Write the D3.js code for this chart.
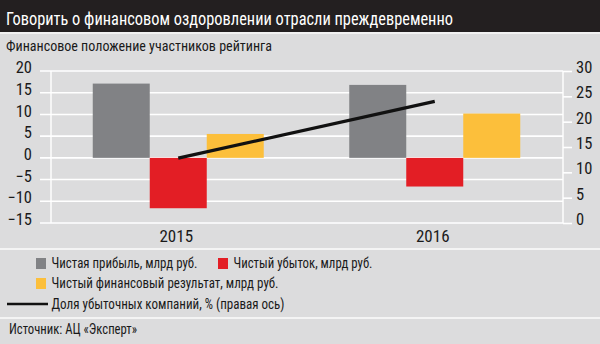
<!DOCTYPE html>
<html><head><meta charset="utf-8">
<script src="https://cdn.jsdelivr.net/npm/d3@7"></script>
<style>
body{margin:0;padding:0;background:#dcdcdd;}
svg text{font-family:"Liberation Sans Narrow","Roboto Condensed","Liberation Sans",sans-serif;}
</style></head>
<body>
<svg id="c" width="600" height="344"></svg>
<script>
const years = ["2015", "2016"];
const seriesNames = ["Чистая прибыль, млрд руб.", "Чистый убыток, млрд руб.", "Чистый финансовый результат, млрд руб."];
const profit = [17.1, 16.8];
const loss = [-11.6, -6.6];
const net = [5.5, 10.2];
const lossShare = [12.8, 24.0];
const lineName = "Доля убыточных компаний, % (правая ось)";
const leftTicks = [-15, -10, -5, 0, 5, 10, 15, 20];
const rightTicks = [0, 5, 10, 15, 20, 25, 30];
const title = "Говорить о финансовом оздоровлении отрасли преждевременно";
const subtitle = "Финансовое положение участников рейтинга";
const source = "Источник: АЦ «Эксперт»";
const colors = ["#818285", "#e31e25", "#fcbf3b"];

const svg = d3.select("#c");
const W = 600, H = 344;
function fit(sel, w) { return sel.attr("textLength", w).attr("lengthAdjust", "spacingAndGlyphs"); }

svg.append("rect").attr("width", W).attr("height", H).attr("fill", "#dcdcdd");
svg.append("rect").attr("width", W).attr("height", 32).attr("fill", "#231f20");
svg.append("rect").attr("y", 32).attr("width", W).attr("height", 2).attr("fill", "#f2f2f2");
fit(svg.append("text").attr("x", 6).attr("y", 25).attr("fill", "#fff").attr("font-size", 19).text(title), 447);
fit(svg.append("text").attr("x", 6).attr("y", 51).attr("fill", "#1a1a1a").attr("font-size", 15.5).text(subtitle), 266);

const yL = d3.scaleLinear().domain([-15, 20]).range([223, 71]);
const yR = d3.scaleLinear().domain([0, 30]).range([223, 71]);
const x0 = d3.scaleBand().domain(years).range([50, 563]);
const groupW = 171;
const x1 = d3.scaleBand().domain(d3.range(3)).range([0, groupW]);
const off = (x0.bandwidth() - groupW) / 2;

// grid
svg.append("g").selectAll("line").data(leftTicks).join("line")
  .attr("x1", 40).attr("x2", 563).attr("y1", d => yL(d)).attr("y2", d => yL(d))
  .attr("stroke", "#fff").attr("stroke-width", 1.6);
svg.append("line").attr("x1", 51).attr("x2", 51).attr("y1", yL(20)).attr("y2", yL(-15)).attr("stroke", "#fff").attr("stroke-width", 1.4);
const rAx = svg.append("g").attr("transform", "translate(563,0)")
  .call(d3.axisRight(yR).tickValues(rightTicks).tickSize(9).tickPadding(4));
rAx.select(".domain").attr("stroke", "#fff").attr("stroke-width", 1.4).attr("d", `M0,${yR(30)}V${yR(0)}`);
rAx.selectAll(".tick line").attr("stroke", "#fff").attr("stroke-width", 1.6);
rAx.selectAll(".tick text").attr("fill", "#1a1a1a").attr("font-size", 16.5).attr("dy", "0.1em").attr("font-family", null);

const lAx = svg.append("g").attr("transform", "translate(40,0)")
  .call(d3.axisLeft(yL).tickValues(leftTicks).tickSize(0).tickPadding(8));
lAx.select(".domain").remove();
lAx.selectAll(".tick text").attr("fill", "#1a1a1a").attr("font-size", 16.5).attr("dy", "0.1em").attr("font-family", null);

// bars
const data = years.map((y, i) => ({year: y, vals: [profit[i], loss[i], net[i]]}));
const g = svg.append("g");
data.forEach(d => {
  g.selectAll(null).data(d.vals).join("rect")
    .attr("x", (v, j) => x0(d.year) + off + x1(j))
    .attr("width", x1.bandwidth())
    .attr("y", v => yL(Math.max(0, v)))
    .attr("height", v => Math.abs(yL(v) - yL(0)))
    .attr("fill", (v, j) => colors[j]);
});

// line
const line = d3.line().x((d, i) => x0(years[i]) + x0.bandwidth() / 2).y(d => yR(d));
svg.append("path").datum(lossShare).attr("d", line).attr("fill", "none").attr("stroke", "#111").attr("stroke-width", 3.2);

// x labels
svg.append("g").selectAll("text").data(years).join("text")
  .attr("x", d => x0(d) + x0.bandwidth() / 2 - 2).attr("y", 242)
  .attr("text-anchor", "middle").attr("font-size", 17).attr("fill", "#1a1a1a").text(d => d);

// separators
svg.append("rect").attr("y", 248).attr("width", W).attr("height", 2).attr("fill", "#f4f4f4");
svg.append("rect").attr("y", 317).attr("width", W).attr("height", 2).attr("fill", "#f4f4f4");

// legend
const leg = [
  {t: seriesNames[0], c: colors[0], x: 36, y: 263, w: 146},
  {t: seriesNames[1], c: colors[1], x: 218, y: 263, w: 139},
  {t: seriesNames[2], c: colors[2], x: 36, y: 283, w: 227}
];
const lg = svg.append("g");
leg.forEach(l => {
  lg.append("rect").attr("x", l.x).attr("y", l.y - 5).attr("width", 10).attr("height", 11).attr("fill", l.c);
  fit(lg.append("text").attr("x", l.x + 15.5).attr("y", l.y + 5).attr("font-size", 14.5).attr("fill", "#1a1a1a").text(l.t), l.w);
});
lg.append("line").attr("x1", 7).attr("x2", 48).attr("y1", 304).attr("y2", 304).attr("stroke", "#111").attr("stroke-width", 2.5);
fit(lg.append("text").attr("x", 51.5).attr("y", 309).attr("font-size", 14.5).attr("fill", "#1a1a1a").text(lineName), 233);

fit(svg.append("text").attr("x", 9).attr("y", 334).attr("font-size", 14.5).attr("fill", "#1a1a1a").text(source), 128);
</script>
</body></html>
